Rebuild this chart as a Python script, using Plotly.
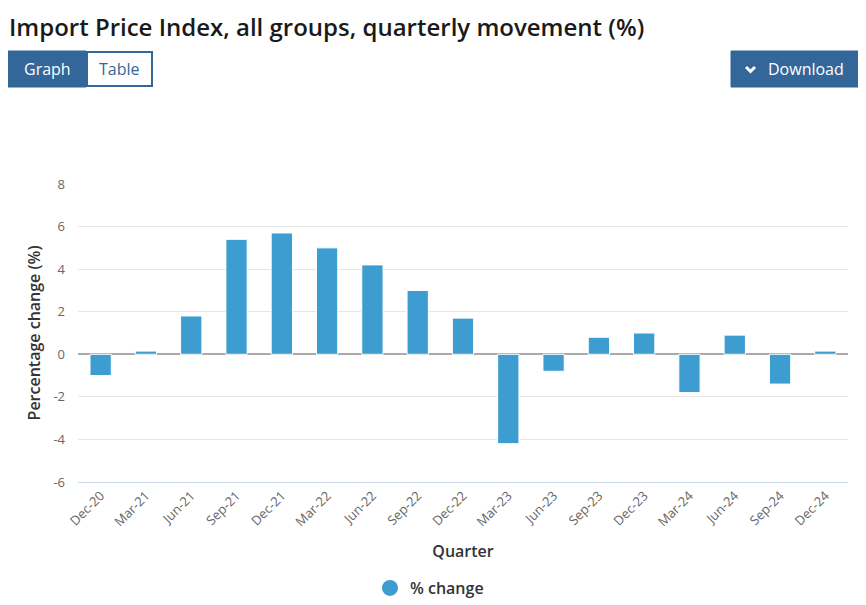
import plotly.graph_objects as go

quarters = ["Dec-20", "Mar-21", "Jun-21", "Sep-21", "Dec-21", "Mar-22", "Jun-22", "Sep-22",
            "Dec-22", "Mar-23", "Jun-23", "Sep-23", "Dec-23", "Mar-24", "Jun-24", "Sep-24", "Dec-24"]
pct_change = [-1.0, 0.15, 1.8, 5.4, 5.7, 5.0, 4.2, 3.0, 1.7, -4.2, -0.8, 0.8, 1.0, -1.8, 0.9, -1.4, 0.15]
y_ticks = [-6, -4, -2, 0, 2, 4, 6, 8]

BAR = "#3d9dd1"
BTN = "#336699"
FONT = "Open Sans"

# page body has an 8px margin; figure sized so it fills the 866x605 window
OFF = 8
W, H = 866 - OFF, 605 - OFF
# plot area in window pixels
PL, PR, PT, PB = 78, 848, 184, 482
L, R, T, B = PL - OFF, W - (PR - OFF), PT - OFF, H - (PB - OFF)
pw, ph = W - L - R, H - T - B
def px(xs): return (xs - OFF - L) / pw
def py(ys): return (H - B - (ys - OFF)) / ph

fig = go.Figure()
fig.add_trace(go.Bar(
    x=quarters, y=pct_change, name="% change", showlegend=False,
    marker=dict(color=BAR, line=dict(color="white", width=1)),
))
# legend entry with circle symbol
fig.add_trace(go.Scatter(
    x=[None], y=[None], mode="markers", name="% change",
    marker=dict(color=BAR, size=16, symbol="circle"),
))

fig.update_layout(
    width=W, height=H,
    margin=dict(l=L, r=R, t=T, b=B, autoexpand=False),
    paper_bgcolor="white", plot_bgcolor="white",
    font=dict(family=FONT, color="#333333"),
    bargap=0.53,
    showlegend=True,
    legend=dict(orientation="h", x=px(370), xanchor="left", y=py(588), yanchor="middle",
                font=dict(size=16, color="#333333", weight=600), itemsizing="trace",
                itemwidth=30),
    xaxis=dict(
        type="category", tickangle=-45, tickfont=dict(size=13, color="#666666"),
        title=dict(text="Quarter", font=dict(size=16, color="#333333", weight=600), standoff=16),
        showgrid=False, showline=True, linecolor="#ccd6eb", linewidth=1,
        ticks="", fixedrange=True,
    ),
    yaxis=dict(
        range=[-6, 8], tickvals=y_ticks, ticktext=[str(v) for v in y_ticks],
        tickfont=dict(size=13, color="#666666"), ticklabelstandoff=12,
        title=dict(text="Percentage change (%)", font=dict(size=16, color="#333333", weight=600), standoff=8),
        showgrid=True, gridcolor="#e6e6e6", gridwidth=1,
        zeroline=True, zerolinecolor="#aaaaaa", zerolinewidth=2,
        showline=False, ticks="",
    ),
)

# Title
fig.add_annotation(text="Import Price Index, all groups, quarterly movement (%)",
                   xref="paper", yref="paper", x=px(7), y=py(8), xanchor="left", yanchor="top",
                   showarrow=False, font=dict(size=24, color="#1a1a1a", family=FONT, weight=600))

# Buttons
fig.add_shape(type="rect", xref="paper", yref="paper", x0=px(8), x1=px(86), y0=py(87), y1=py(51),
              fillcolor=BTN, line=dict(color=BTN, width=1))
fig.add_shape(type="rect", xref="paper", yref="paper", x0=px(87), x1=px(152), y0=py(86), y1=py(52),
              fillcolor="white", line=dict(color=BTN, width=2))
fig.add_annotation(text="Graph", xref="paper", yref="paper", x=px(47), y=py(69), showarrow=False,
                   xanchor="center", yanchor="middle",
                   font=dict(size=16, color="white", family=FONT))
fig.add_annotation(text="Table", xref="paper", yref="paper", x=px(119.5), y=py(69), showarrow=False,
                   xanchor="center", yanchor="middle",
                   font=dict(size=16, color=BTN, family=FONT))
fig.add_shape(type="rect", xref="paper", yref="paper", x0=px(731), x1=px(858), y0=py(87), y1=py(51),
              fillcolor=BTN, line=dict(color=BTN, width=1))
fig.add_shape(type="path", xref="paper", yref="paper",
              path=f"M {px(746)} {py(67)} L {px(750.5)} {py(71.5)} L {px(755)} {py(67)}",
              line=dict(color="white", width=3))
fig.add_annotation(text="Download", xref="paper", yref="paper", x=px(806), y=py(69), showarrow=False,
                   xanchor="center", yanchor="middle",
                   font=dict(size=16, color="white", family=FONT))

fig.write_html("out.html")
